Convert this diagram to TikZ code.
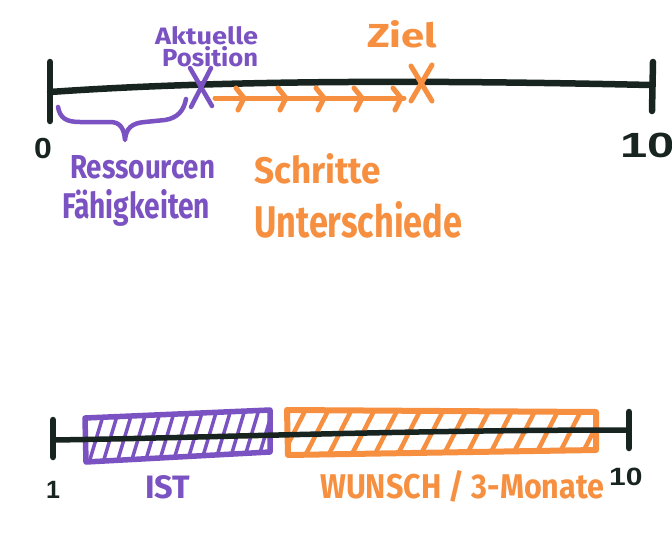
\documentclass[tikz,border=0pt]{standalone}
\usepackage{fontspec}
\setmainfont{Fira Sans}
\newfontfamily\digfont{Liberation Sans}
\usepackage{graphicx}
\definecolor{purp}{RGB}{122,82,194}
\definecolor{orng}{RGB}{246,144,64}
\definecolor{ink}{RGB}{24,36,31}
\newcommand\fitwh[3]{\resizebox{#1}{#2}{#3}}
\newcommand\digs[3]{\digfont\bfseries\fontsize{#1}{#1}\selectfont\scalebox{#2}[1]{#3}}
\begin{document}
\begin{tikzpicture}[x=1pt,y=-1pt, line cap=round, line join=round,
  inkline/.style={draw=ink, line width=6.5pt},
  thinink/.style={draw=ink, line width=5.5pt},
  pline/.style={draw=purp, line width=4.5pt},
  oline/.style={draw=orng, line width=5pt},
  phatch/.style={draw=purp, line width=3.5pt},
  ohatch/.style={draw=orng, line width=4.5pt},
  lbl/.style={inner sep=0pt, font=\bfseries, anchor=base west}]
\fill[white] (0,0) rectangle (672,533);
\useasboundingbox (0,0) rectangle (672,533);

% ---------- top scale ----------
\coordinate (t0) at (50,92);
\coordinate (t10) at (650,85);
\draw[inkline] (t0) .. controls (220,80) and (430,80) .. (t10);
\draw[inkline] (50,62) -- (50,121);
\draw[inkline] (653,62) -- (652,111);
\node[lbl, text=ink] (zero) at (34,158) {\digs{29}{1.1}{0}};
\node[lbl, text=ink] (ten) at (620,157) {\digs{35}{1.4}{10}};

% current position X
\coordinate (cur) at (200,86);
\draw[pline] (190,68) -- (212,106);
\draw[pline] (211,68) -- (191,107);
\node[lbl, text=purp] (akt) at (155,44) {\fitwh{103pt}{18pt}{Aktuelle}};
\node[lbl, text=purp] (pos) at (162,66) {\fitwh{96pt}{20pt}{Position}};

% goal X
\coordinate (goal) at (421,84);
\draw[oline] (411,66) -- (432,101);
\draw[oline] (432,65) -- (411,101);
\node[lbl, text=orng] (ziel) at (367,47) {\fitwh{70pt}{27pt}{Ziel}};

% steps arrows
\draw[oline] (215,98) -- (404,98);
\foreach \t in {244,286,324,362,401}{
  \draw[oline] (\t-8,88) -- (\t,98) -- (\t-6,110);
}

% brace
\draw[pline] (58,107) .. controls (60,118) and (66,122) .. (80,122)
  -- (110,122) .. controls (120,122) and (124,128) .. (125,140)
  .. controls (126,128) and (132,123) .. (145,122)
  -- (165,120) .. controls (178,118) and (184,110) .. (186,99);

\node[lbl, text=purp] (ress) at (70,178) {\fitwh{145pt}{23pt}{Ressourcen}};
\node[lbl, text=purp] (faeh) at (62,218) {\fitwh{148pt}{29pt}{Fähigkeiten}};
\node[lbl, text=orng] (schr) at (254,183) {\fitwh{127pt}{30pt}{Schritte}};
\node[lbl, text=orng] (unter) at (254,237) {\fitwh{208pt}{36pt}{Unterschiede}};

% ---------- bottom scale ----------
% purple box
\begin{scope}
  \clip (85,418) -- (270,410) -- (270,452) -- (86,462) -- cycle;
  \foreach \x in {88,102,...,272}{
    \draw[phatch] (\x,466) -- (\x+18,406);
  }
\end{scope}
\draw[pline, line width=5.5pt] (85,418) -- (270,410) -- (270,452) -- (86,462) -- cycle;

% orange box
\begin{scope}
  \clip (287,410) -- (596,412) -- (596,450) -- (288,455) -- cycle;
  \foreach \x in {280,303,...,600}{
    \draw[ohatch] (\x,460) -- (\x+28,405);
  }
\end{scope}
\draw[oline, line width=6pt] (287,410) -- (596,412) -- (596,450) -- (288,455) -- cycle;

% axis
\coordinate (b1) at (53,440);
\coordinate (b10) at (628,430);
\draw[thinink] (b1) .. controls (200,438) and (400,430) .. (b10);
\draw[inkline] (53,420) -- (53,457);
\draw[inkline] (629,412) -- (629,448);

\node[lbl, text=ink] (one) at (46,498) {\digs{25}{1}{1}};
\node[lbl, text=ink] (tenb) at (609,485) {\digs{25}{1.2}{10}};
\node[lbl, text=purp] (ist) at (145,498) {\fitwh{45pt}{23pt}{IST}};
\node[lbl, text=orng] (wunsch) at (320,498) {\fitwh{284pt}{28pt}{WUNSCH / 3-Monate}};
\end{tikzpicture}
\end{document}
